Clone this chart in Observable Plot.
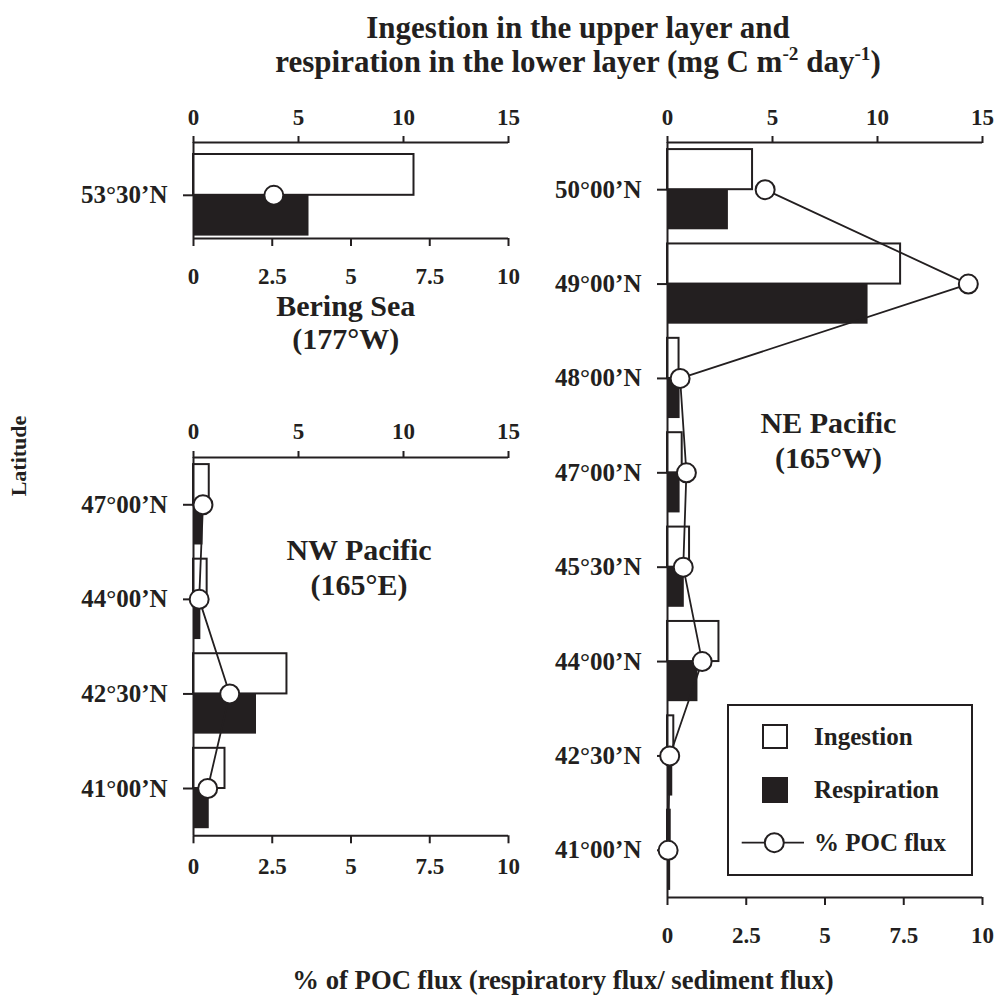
<!DOCTYPE html>
<html>
<head>
<meta charset="utf-8">
<script src="https://cdn.jsdelivr.net/npm/d3@7"></script>
<script src="https://cdn.jsdelivr.net/npm/@observablehq/plot@0.6"></script>
<style>
  html, body { margin: 0; padding: 0; background: white; }
  #root { position: relative; width: 995px; height: 1005px; background: white; overflow: hidden;
          font-family: "Liberation Serif", "Times New Roman", Times, serif; font-weight: bold; color: #231f20; }
  .abs { position: absolute; }
  .lbl { position: absolute; white-space: nowrap; font-weight: bold; }
  sup { font-size: 62%; line-height: 0; vertical-align: 0.62em; }
</style>
</head>
<body>
<div id="root"></div>
<script>
// ---------------- data ----------------
const ingestionTicks = [0, 5, 10, 15];
const pocTicks = [0, 2.5, 5, 7.5, 10];

const beringLat = ["53°30’N"];
const beringIngestion = [10.5];
const beringRespiration = [5.5];
const beringPOC = [2.55];

const nwLat = ["47°00’N", "44°00’N", "42°30’N", "41°00’N"];
const nwIngestion = [0.75, 0.65, 4.45, 1.5];
const nwRespiration = [0.45, 0.35, 3.0, 0.75];
const nwPOC = [0.3, 0.18, 1.15, 0.45];

const neLat = ["50°00’N", "49°00’N", "48°00’N", "47°00’N", "45°30’N", "44°00’N", "42°30’N", "41°00’N"];
const neIngestion = [4.05, 11.1, 0.55, 0.7, 1.05, 2.45, 0.3, 0.13];
const neRespiration = [2.9, 9.55, 0.6, 0.6, 0.8, 1.45, 0.25, 0.15];
const nePOC = [3.1, 9.55, 0.4, 0.6, 0.5, 1.1, 0.07, 0.02];

// ---------------- drawing ----------------
const root = document.getElementById("root");
const FONT = '"Liberation Serif", "Times New Roman", Times, serif';
const INK = "#231f20";
const TICK_FS = 23;
const ingMax = ingestionTicks[ingestionTicks.length - 1];
const pocMax = pocTicks[pocTicks.length - 1];
const k = ingMax / pocMax; // POC values drawn on the shared x scale

function panel({lat, ing, resp, poc, x0, top, plotW, plotH, yDomain, bottomPad}) {
  const mL = 130, mR = 13, mT = 50, mB = 60;
  const rows = lat.map((l, i) => ({i, lat: l, ing: ing[i], resp: resp[i], poc: poc[i]}));
  const half = 0.425;
  const chart = Plot.plot({
    width: mL + plotW + mR,
    height: mT + plotH + mB,
    marginLeft: mL, marginRight: mR, marginTop: mT, marginBottom: mB,
    x: {domain: [0, ingMax]},
    y: {domain: yDomain},
    style: {fontFamily: FONT, fontWeight: "bold", fontSize: TICK_FS + "px", color: INK, background: "transparent", overflow: "visible"},
    marks: [
      Plot.rect(rows, {x1: 0, x2: "ing", y1: d => d.i - half, y2: d => d.i, fill: "white", stroke: INK, strokeWidth: 2}),
      Plot.rect(rows, {x1: 0, x2: "resp", y1: d => d.i, y2: d => d.i + half, fill: INK}),
      Plot.ruleX([0], {stroke: INK, strokeWidth: 2}),
      Plot.ruleY([yDomain[0], yDomain[1]], {stroke: INK, strokeWidth: 2}),
      Plot.axisX(ingestionTicks, {anchor: "top", tickSize: 7, tickPadding: 11, strokeWidth: 2, fontSize: TICK_FS, fontWeight: "bold", label: null}),
      Plot.axisX(pocTicks.map(v => v * k), {anchor: "bottom", tickSize: 8, tickPadding: bottomPad, strokeWidth: 2, fontSize: TICK_FS, fontWeight: "bold", label: null,
        tickFormat: d => String(+(d / k).toFixed(2))}),
      Plot.axisY(rows.map(d => d.i), {anchor: "left", tickSize: 10, tickPadding: 16, strokeWidth: 2, fontSize: 25, fontWeight: "bold", label: null,
        tickFormat: i => lat[i]}),
      Plot.line(rows, {x: d => d.poc * k, y: "i", stroke: INK, strokeWidth: 1.8}),
      Plot.dot(rows, {x: d => d.poc * k, y: "i", r: 9.5, fill: "white", stroke: INK, strokeWidth: 2})
    ]
  });
  const wrap = document.createElement("div");
  wrap.className = "abs";
  wrap.style.left = (x0 - mL) + "px";
  wrap.style.top = (top - mT) + "px";
  wrap.style.width = (mL + plotW + mR) + "px";
  wrap.appendChild(chart);
  root.appendChild(wrap);
}

panel({lat: beringLat, ing: beringIngestion, resp: beringRespiration, poc: beringPOC,
  x0: 193.3, top: 142, plotW: 315, plotH: 96, yDomain: [0.45, -0.55], bottomPad: 21});
panel({lat: nwLat, ing: nwIngestion, resp: nwRespiration, poc: nwPOC,
  x0: 193.3, top: 456.7, plotW: 315, plotH: 378.3, yDomain: [3.5, -0.5], bottomPad: 14});
panel({lat: neLat, ing: neIngestion, resp: neRespiration, poc: nePOC,
  x0: 666.7, top: 141.7, plotW: 315, plotH: 755, yDomain: [7.5, -0.5], bottomPad: 21});

// text helper: centred (or left) at given baseline
function label(html, x, baseline, fs, align = "center") {
  const d = document.createElement("div");
  d.className = "lbl";
  d.innerHTML = html;
  d.style.fontSize = fs + "px";
  d.style.lineHeight = fs + "px";
  d.style.left = x + "px";
  d.style.top = (baseline - 0.8375 * fs) + "px";
  if (align === "center") d.style.transform = "translateX(-50%)";
  root.appendChild(d);
  return d;
}

// titles
label("Ingestion in the upper layer and", 578, 38.3, 31);
label("respiration in the lower layer (mg C m<sup>-2</sup> day<sup>-1</sup>)", 578, 71.7, 31);
label("% of POC flux (respiratory flux/ sediment flux)", 563, 989.3, 26.7);

// y title
const lat = document.createElement("div");
lat.className = "lbl";
lat.textContent = "Latitude";
lat.style.fontSize = "22px";
lat.style.lineHeight = "22px";
lat.style.left = "19px";
lat.style.top = "456px";
lat.style.transform = "translate(-50%, -50%) rotate(-90deg)";
root.appendChild(lat);

// panel names
label("Bering Sea", 345.8, 316, 30);
label("(177°W)", 345.8, 349, 30);
label("NW Pacific", 359, 560, 30);
label("(165°E)", 359, 595, 30);
label("NE Pacific", 828.5, 433, 30);
label("(165°W)", 828.5, 468, 30);

// legend
const box = document.createElement("div");
box.className = "abs";
Object.assign(box.style, {left: "726.7px", top: "704px", width: "246px", height: "172px",
  border: "2px solid " + INK, boxSizing: "border-box", background: "white"});
root.appendChild(box);
const sq1 = document.createElement("div");
sq1.className = "abs";
Object.assign(sq1.style, {left: "761.7px", top: "724px", width: "26px", height: "25px",
  border: "2px solid " + INK, boxSizing: "border-box", background: "white"});
root.appendChild(sq1);
const sq2 = document.createElement("div");
sq2.className = "abs";
Object.assign(sq2.style, {left: "761.7px", top: "777px", width: "26px", height: "26px", background: INK});
root.appendChild(sq2);
const sym = document.createElementNS("http://www.w3.org/2000/svg", "svg");
sym.setAttribute("width", "70");
sym.setAttribute("height", "26");
sym.style.position = "absolute";
sym.style.left = "740px";
sym.style.top = "830px";
sym.innerHTML = `<line x1="1.7" x2="64" y1="12.7" y2="12.7" stroke="${INK}" stroke-width="1.8"/>
  <circle cx="34.3" cy="12.7" r="9.5" fill="white" stroke="${INK}" stroke-width="2"/>`;
root.appendChild(sym);
label("Ingestion", 814, 745, 25, "left");
label("Respiration", 814, 798.3, 25, "left");
label("% POC flux", 814, 850.7, 25, "left");
</script>
</body>
</html>
